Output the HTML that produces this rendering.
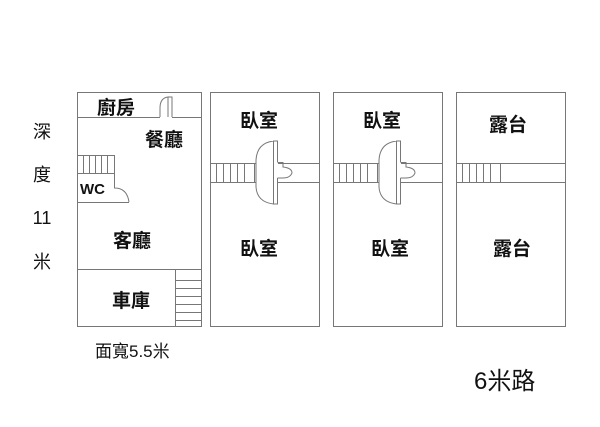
<!DOCTYPE html>
<html><head><meta charset="utf-8"><style>
body{margin:0;background:#fff;width:600px;height:422px;overflow:hidden}
svg text{font-family:"Liberation Sans","Noto Sans CJK TC",sans-serif;fill:#111}
</style></head><body>
<svg width="600" height="422" viewBox="0 0 600 422" xmlns="http://www.w3.org/2000/svg">
<g fill="none" stroke="#777" stroke-width="1">
<rect x="77.5" y="92.5" width="124" height="234"/>
<line x1="77" y1="117.5" x2="160" y2="117.5"/>
<line x1="172" y1="117.5" x2="201" y2="117.5"/>
<path d="M160 117 V108 Q160 98 168 97 V117 M168 97 H172 V117"/>
<rect x="77.5" y="155.5" width="37" height="18"/>
<line x1="83.5" y1="155" x2="83.5" y2="173"/><line x1="89.5" y1="155" x2="89.5" y2="173"/>
<line x1="95.5" y1="155" x2="95.5" y2="173"/><line x1="101.5" y1="155" x2="101.5" y2="173"/>
<line x1="107.5" y1="155" x2="107.5" y2="173"/>
<path d="M114.5 173 V188 Q127 188 129 202 M77 202.5 H129"/>
<line x1="77" y1="269.5" x2="201" y2="269.5"/>
<line x1="175.5" y1="270" x2="175.5" y2="326"/>
<line x1="175" y1="280.5" x2="201" y2="280.5"/><line x1="175" y1="288.5" x2="201" y2="288.5"/>
<line x1="175" y1="296.5" x2="201" y2="296.5"/><line x1="175" y1="304.5" x2="201" y2="304.5"/>
<line x1="175" y1="312.5" x2="201" y2="312.5"/><line x1="175" y1="320.5" x2="201" y2="320.5"/>
</g>
<g id="p2" fill="none" stroke="#777" stroke-width="1">
<rect x="210.5" y="92.5" width="109" height="234"/>
<line x1="210" y1="163.5" x2="256" y2="163.5"/><line x1="210" y1="182.5" x2="256" y2="182.5"/>
<line x1="278" y1="163.5" x2="319" y2="163.5"/><line x1="278" y1="182.5" x2="319" y2="182.5"/>
<line x1="216.5" y1="163" x2="216.5" y2="182"/><line x1="223.5" y1="163" x2="223.5" y2="182"/>
<line x1="230.5" y1="163" x2="230.5" y2="182"/><line x1="237.5" y1="163" x2="237.5" y2="182"/>
<line x1="244.5" y1="163" x2="244.5" y2="182"/><line x1="254.5" y1="163" x2="254.5" y2="182"/>
<path d="M273.5 141 Q257 143 256 160 V187 Q257 202 273.5 204 V141 H277.5 V162 M277.5 178 V204 H273.5"/>
<path d="M277.5 162.5 H283 V167 Q292 168 292 173 Q290 178 283 178 H277.5"/>
</g>
<use href="#p2" transform="translate(123 0)"/>
<g fill="none" stroke="#777" stroke-width="1">
<rect x="456.5" y="92.5" width="109" height="234"/>
<line x1="456" y1="163.5" x2="565" y2="163.5"/><line x1="456" y1="182.5" x2="565" y2="182.5"/>
<line x1="462.5" y1="163" x2="462.5" y2="182"/><line x1="469.5" y1="163" x2="469.5" y2="182"/>
<line x1="476.5" y1="163" x2="476.5" y2="182"/><line x1="483.5" y1="163" x2="483.5" y2="182"/>
<line x1="490.5" y1="163" x2="490.5" y2="182"/><line x1="500.5" y1="163" x2="500.5" y2="182"/>
</g>
<g font-size="19" font-weight="bold">
<text x="97" y="114">廚房</text>
<text x="145" y="146">餐廳</text>
<text x="113" y="247">客廳</text>
<text x="112" y="307">車庫</text>
<text x="240" y="127">臥室</text>
<text x="240" y="255">臥室</text>
<text x="363" y="127">臥室</text>
<text x="371" y="255">臥室</text>
<text x="489" y="131">露台</text>
<text x="493" y="255">露台</text>
</g>
<text x="80" y="194" font-size="15" font-weight="bold">WC</text>
<g font-size="18" text-anchor="middle">
<text x="42" y="138">深</text>
<text x="42" y="181">度</text>
<text x="42" y="224">11</text>
<text x="42" y="268">米</text>
</g>
<text x="95" y="357" font-size="17">面寬5.5米</text>
<text x="474" y="389" font-size="24">6米路</text>
</svg>
</body></html>
